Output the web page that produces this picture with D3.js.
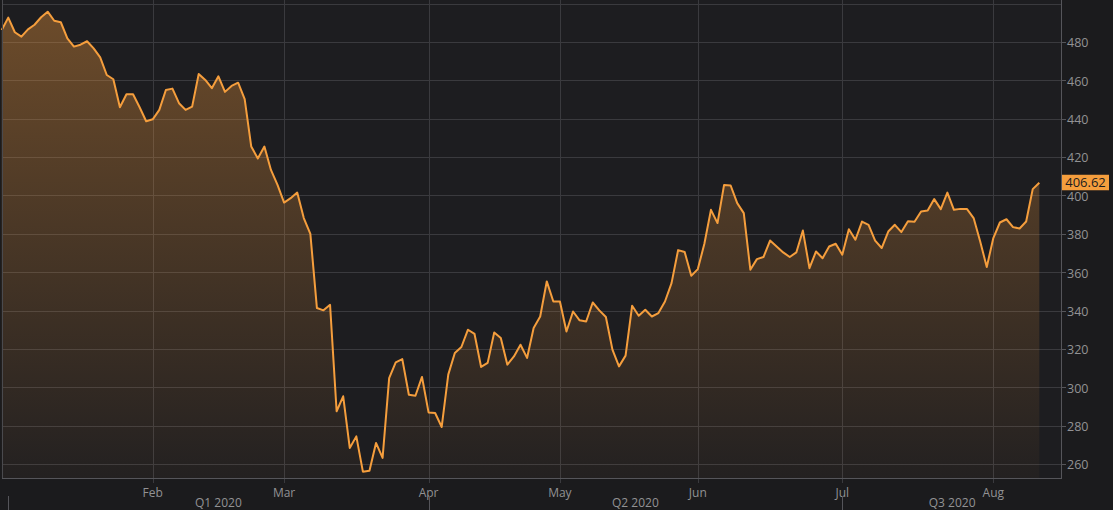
<!DOCTYPE html>
<html>
<head>
<meta charset="utf-8">
<script src="https://d3js.org/d3.v7.min.js"></script>
<style>
  body { margin: 0px; background: #1c1c1f; }
  .tick-label { fill: #929294; font-size: 12px; font-family: "Open Sans", sans-serif; }
  .y-label { font-size: 12.5px; }
</style>
</head>
<body>
<div id="my_dataviz"></div>
<script>
// daily closes, one per trading day (index 0 = last day of 2019)
const values = [
  486.3, 492.7, 485.1, 482.8, 486.6, 489.0, 492.9, 495.8, 491.1, 490.3,
  481.9, 477.6, 478.6, 480.4, 476.7, 472.0, 462.8, 460.6, 446.0, 452.8,
  452.8, 446.0, 438.7, 439.7, 444.6, 455.0, 455.7, 448.1, 444.6, 446.3,
  463.3, 460.2, 455.9, 462.1, 454.0, 457.1, 458.8, 450.2, 425.5, 419.3,
  425.5, 413.3, 405.5, 396.3, 398.6, 401.5, 388.2, 380.0, 341.3, 340.1,
  343.0, 287.5, 295.3, 268.4, 274.4, 256.0, 256.5, 271.0, 263.2, 304.8,
  313.0, 314.7, 296.1, 295.6, 305.4, 286.9, 286.6, 279.3, 306.6, 317.9,
  321.0, 330.0, 327.8, 310.6, 312.7, 328.6, 325.7, 311.8, 316.1, 322.2,
  315.3, 330.9, 336.9, 355.2, 344.7, 344.7, 329.1, 339.5, 334.9, 334.3,
  344.2, 340.1, 336.6, 319.6, 310.9, 316.5, 342.5, 337.3, 340.4, 336.9,
  338.7, 344.7, 354.3, 371.5, 370.5, 358.1, 361.6, 374.8, 392.5, 385.6,
  405.5, 405.2, 396.0, 390.8, 361.3, 366.8, 367.9, 376.5, 373.4, 370.3,
  367.9, 370.3, 381.7, 362.1, 370.8, 367.3, 373.4, 374.8, 369.1, 382.4,
  376.9, 386.4, 384.7, 376.5, 372.6, 381.2, 384.7, 380.9, 386.6, 386.3,
  391.6, 392.1, 398.1, 392.9, 401.5, 392.5, 393.0, 392.9, 388.2, 376.0,
  362.7, 377.8, 385.9, 387.6, 383.5, 382.8, 386.4, 403.3, 406.62
];

// first trading day of each month (index into values)
const monthLabels = ["Feb", "Mar", "Apr", "May", "Jun", "Jul", "Aug"];
const monthIndex = [23, 43, 65, 85, 106, 128, 151];

const quarterLabels = ["Q1 2020", "Q2 2020", "Q3 2020"];
const quarterIndex = [1, 65, 128];

const yTicks = [260, 280, 300, 320, 340, 360, 380, 400, 420, 440, 460, 480];
const yGrid = [260, 280, 300, 320, 340, 360, 380, 400, 420, 440, 460, 480, 500];

const lastLabel = "406.62";

var width = 1113, height = 510;
var plot = { left: 2, right: 1062, top: 0, bottom: 478 };

var svg = d3.select("#my_dataviz")
  .append("svg")
  .attr("width", width)
  .attr("height", height)
  .style("display", "block");

svg.append("rect")
  .attr("width", width).attr("height", height)
  .attr("fill", "#1b1b1d");

svg.append("rect")
  .attr("x", plot.left).attr("y", plot.top)
  .attr("width", plot.right - plot.left).attr("height", plot.bottom - plot.top)
  .attr("fill", "#1d1d20");

var x = d3.scaleLinear()
  .domain([0, values.length - 1])
  .range([1.7, 1039.3]);

var y = d3.scaleLinear()
  .domain([252.7, 501.9])
  .range([plot.bottom, plot.top]);

// gradient for the area
var defs = svg.append("defs");
var grad = defs.append("linearGradient")
  .attr("id", "areaGrad")
  .attr("gradientUnits", "userSpaceOnUse")
  .attr("x1", 0).attr("y1", 0).attr("x2", 0).attr("y2", plot.bottom);
grad.append("stop").attr("offset", "0%").attr("stop-color", "#f39a3c").attr("stop-opacity", 0.38);
grad.append("stop").attr("offset", "100%").attr("stop-color", "#f39a3c").attr("stop-opacity", 0.03);

// grid
svg.append("g")
  .selectAll("line")
  .data(yGrid)
  .enter()
  .append("line")
  .attr("x1", plot.left).attr("x2", plot.right)
  .attr("y1", function (d) { return Math.round(y(d)) + 0.5; })
  .attr("y2", function (d) { return Math.round(y(d)) + 0.5; })
  .attr("stroke", "#3a3a3e")
  .attr("stroke-width", 1);

svg.append("g")
  .selectAll("line")
  .data(monthIndex)
  .enter()
  .append("line")
  .attr("x1", function (d) { return Math.round(x(d)) + 0.5; })
  .attr("x2", function (d) { return Math.round(x(d)) + 0.5; })
  .attr("y1", plot.top).attr("y2", plot.bottom + 5)
  .attr("stroke", "#3a3a3e")
  .attr("stroke-width", 1);

// area + line
var area = d3.area()
  .x(function (d, i) { return x(i); })
  .y0(plot.bottom)
  .y1(function (d) { return y(d); });

var line = d3.line()
  .x(function (d, i) { return x(i); })
  .y(function (d) { return y(d); });

svg.append("path")
  .datum(values)
  .attr("d", area)
  .attr("fill", "url(#areaGrad)");

svg.append("path")
  .datum(values)
  .attr("d", line)
  .attr("fill", "none")
  .attr("stroke", "#f59e3d")
  .attr("stroke-width", 2)
  .attr("stroke-linejoin", "round");

// frame
svg.append("line")
  .attr("x1", plot.left + 0.5).attr("x2", plot.left + 0.5)
  .attr("y1", plot.top).attr("y2", plot.bottom)
  .attr("stroke", "#4a4a4e");
svg.append("line")
  .attr("x1", plot.left).attr("x2", plot.right)
  .attr("y1", plot.bottom + 0.5).attr("y2", plot.bottom + 0.5)
  .attr("stroke", "#55555a");
svg.append("line")
  .attr("x1", plot.right - 0.5).attr("x2", plot.right - 0.5)
  .attr("y1", 0).attr("y2", plot.bottom + 1)
  .attr("stroke", "#55555a");

// y axis on the right
var yAxis = svg.append("g");
yAxis.selectAll("line")
  .data(yTicks)
  .enter()
  .append("line")
  .attr("x1", plot.right).attr("x2", plot.right + 4)
  .attr("y1", function (d) { return Math.round(y(d)) + 0.5; })
  .attr("y2", function (d) { return Math.round(y(d)) + 0.5; })
  .attr("stroke", "#55555a");
yAxis.selectAll("text")
  .data(yTicks)
  .enter()
  .append("text")
  .attr("class", "tick-label y-label")
  .attr("x", plot.right + 5)
  .attr("y", function (d) { return y(d) + 1; })
  .attr("dy", "0.35em")
  .text(function (d) { return d; });

// month labels
svg.append("g")
  .selectAll("text")
  .data(monthLabels)
  .enter()
  .append("text")
  .attr("class", "tick-label")
  .attr("text-anchor", "middle")
  .attr("x", function (d, i) { return x(monthIndex[i]); })
  .attr("y", 496.5)
  .text(function (d) { return d; });

// quarter separators + labels
var qEnds = quarterIndex.map(function (d, i) {
  return i < quarterIndex.length - 1 ? x(quarterIndex[i + 1]) : plot.right;
});

svg.append("g")
  .selectAll("line")
  .data(quarterIndex)
  .enter()
  .append("line")
  .attr("x1", function (d) { return Math.round(x(d)) + 0.5; })
  .attr("x2", function (d) { return Math.round(x(d)) + 0.5; })
  .attr("y1", 496).attr("y2", height)
  .attr("stroke", "#55555a");

svg.append("g")
  .selectAll("text")
  .data(quarterLabels)
  .enter()
  .append("text")
  .attr("class", "tick-label")
  .attr("text-anchor", "middle")
  .attr("x", function (d, i) { return (x(quarterIndex[i]) + qEnds[i]) / 2; })
  .attr("y", 506.5)
  .text(function (d) { return d; });

// last value badge
var lastY = y(values[values.length - 1]);
svg.append("rect")
  .attr("x", plot.right).attr("y", lastY - 8)
  .attr("width", 47).attr("height", 15.5)
  .attr("fill", "#f59e3d");
svg.append("text")
  .attr("x", plot.right + 23.5).attr("y", lastY - 0.5)
  .attr("dy", "0.35em")
  .attr("text-anchor", "middle")
  .style("font-size", "13px")
  .style("font-family", "'Open Sans', sans-serif")
  .attr("fill", "#1c1c1f")
  .text(lastLabel);
</script>
</body>
</html>
